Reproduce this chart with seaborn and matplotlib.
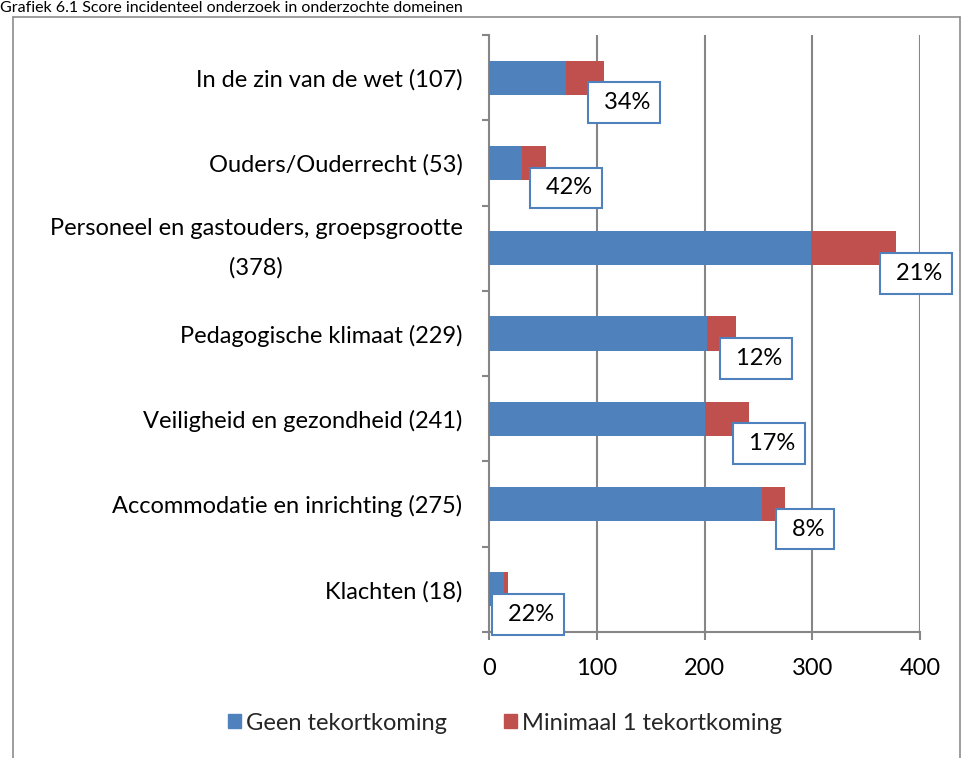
import matplotlib
matplotlib.use("Agg")
import matplotlib.pyplot as plt
from matplotlib.lines import Line2D
from matplotlib.patches import Patch
import seaborn as sns
import pandas as pd
import numpy as np

categories = [
    "In de zin van de wet (107)",
    "Ouders/Ouderrecht (53)",
    "Personeel en gastouders, groepsgrootte\n(378)",
    "Pedagogische klimaat (229)",
    "Veiligheid en gezondheid (241)",
    "Accommodatie en inrichting (275)",
    "Klachten (18)",
]
geen = [71, 31, 299, 202, 200, 253, 14]
minimaal = [36, 22, 79, 27, 41, 22, 4]
pct_labels = ["34%", "42%", "21%", "12%", "17%", "8%", "22%"]
xticks = [0, 100, 200, 300, 400]
series_names = ["Geen tekortkoming", "Minimaal 1 tekortkoming"]
title = "Grafiek 6.1 Score incidenteel onderzoek in onderzochte domeinen"

BLUE = "#4F81BD"
RED = "#C0504D"
GRID = "#868686"
FONT = "Lato"

sns.set_theme(style="white")
plt.rcParams["font.family"] = [FONT, "DejaVu Sans"]

df = pd.DataFrame({"cat": categories, "geen": geen, "min": minimaal})
df["total"] = df["geen"] + df["min"]

W, H = 964, 758
fig = plt.figure(figsize=(W / 100, H / 100), dpi=100)
ax = fig.add_axes([489 / W, 1 - 632 / H, (920 - 489) / W, (632 - 35) / H])

sns.barplot(data=df, y="cat", x="total", color=RED, saturation=1, width=0.4,
            orient="h", ax=ax, zorder=3, linewidth=0)
sns.barplot(data=df, y="cat", x="geen", color=BLUE, saturation=1, width=0.4,
            orient="h", ax=ax, zorder=4, linewidth=0)

ax.set_xlim(0, 400)
ax.set_ylim(6.5, -0.5)
ax.set_xticks(xticks)
ax.set_xlabel("")
ax.set_ylabel("")
ax.grid(False)
for v in xticks[1:]:
    ax.axvline(v, color=GRID, lw=1.5, zorder=1)

for s in ["top", "right"]:
    ax.spines[s].set_visible(False)
for s in ["left", "bottom"]:
    ax.spines[s].set_color(GRID)
    ax.spines[s].set_linewidth(1.5)

FS = 17
ax.set_yticks(range(len(categories)))
ax.set_yticklabels(categories, fontsize=FS, color="black")
for lbl in ax.get_yticklabels():
    lbl.set_multialignment("center")
    if "\n" in lbl.get_text():
        lbl.set_linespacing(2.05)
        lbl.set_va("center")
ax.set_yticks(np.arange(-0.5, len(categories)), minor=True)
ax.tick_params(axis="y", which="major", length=0, pad=19)
ax.tick_params(axis="y", which="minor", length=5, width=1.5, color=GRID, left=True, direction="out")
ax.tick_params(axis="x", which="major", length=6, width=1.5, color=GRID, bottom=True,
               direction="out", pad=13, labelsize=FS, labelcolor="black")

for i, (t, p) in enumerate(zip(df["total"], pct_labels)):
    ax.annotate(" " + p, xy=(t, i), xytext=(20, -25), textcoords="offset pixels",
                ha="center", va="center", fontsize=FS, color="black", zorder=6,
                bbox=dict(boxstyle="square,pad=0.42", fc="white", ec=BLUE, lw=1.5))

handles = [Patch(color=BLUE, label=series_names[0]), Patch(color=RED, label=series_names[1])]
fig.legend(handles=handles, loc="center", bbox_to_anchor=(505 / W, 1 - 723 / H), ncol=2,
           frameon=False, fontsize=FS, handlelength=0.55, handleheight=0.55,
           handletextpad=0.2, columnspacing=2.4)

# outer frame
fc = "#8C8C8C"
fig.add_artist(Line2D([13 / W, 13 / W], [0, 1 - 17 / H], transform=fig.transFigure, color=fc, lw=1.2))
fig.add_artist(Line2D([13 / W, 960 / W], [1 - 17 / H, 1 - 17 / H], transform=fig.transFigure, color=fc, lw=1.2))
fig.add_artist(Line2D([960 / W, 960 / W], [0, 1 - 17 / H], transform=fig.transFigure, color=fc, lw=1.2))

fig.text(0.0, 1 - 1 / H, title, ha="left", va="top", fontsize=11.5, color="black")

fig.savefig("out.png", dpi=100)
